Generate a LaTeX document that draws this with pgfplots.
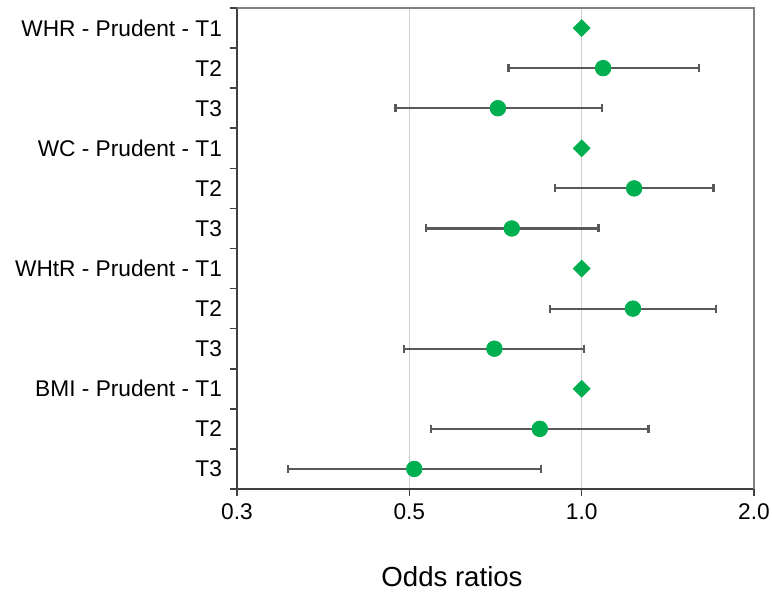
\documentclass[border=0pt]{standalone}
\usepackage{pgfplots}
\pgfplotsset{compat=1.18}
\usepackage{fontspec}
\setmainfont{Liberation Sans}
\definecolor{dotgreen}{HTML}{00B050}
\definecolor{cigray}{HTML}{595959}
\definecolor{gridgray}{HTML}{D0D0D0}
\definecolor{spine}{HTML}{404040}

% odds ratios, one row per line of the plot (1 = top)
\pgfplotstableread{
y or
2 1.09
3 0.714
5 1.235
6 0.755
8 1.229
9 0.704
11 0.845
12 0.510
}\ortable
\pgfplotstableread{
y or
1 1
4 1
7 1
10 1
}\reftable

\begin{document}
\begin{tikzpicture}
\path[use as bounding box] (0,0) rectangle (386pt,295.5pt);
\begin{axis}[
  at={(118.5pt,51pt)}, anchor=south west,
  scale only axis,
  width=258.5pt, height=240.5pt,
  xmode=log, log basis x=2,
  xmin=0.25, xmax=2,
  xtick={0.25,0.5,1,2},
  xticklabels={0.3,0.5,1.0,2.0},
  y dir=reverse,
  ymin=0.5, ymax=12.5,
  ytick={1,...,12},
  yticklabels={WHR - Prudent - T1,T2,T3,WC - Prudent - T1,T2,T3,WHtR - Prudent - T1,T2,T3,BMI - Prudent - T1,T2,T3},
  minor ytick={0.5,1.5,...,12.5},
  axis lines=left,
  axis line style={spine, line width=0.8pt, -},
  tick align=outside,
  major tick length=3.5pt,
  minor tick length=3.5pt,
  major y tick style={draw=none},
  minor y tick style={spine, line width=0.8pt},
  major x tick style={spine, line width=0.8pt},
  xmajorgrids,
  grid style={gridgray, line width=0.6pt},
  tick label style={font=\fontsize{11.35}{13}\selectfont},
  /pgf/number format/assume math mode=true,
  yticklabel style={xshift=-0.5pt},
  xticklabel style={yshift=-0.5pt},
  clip=false,
  unbounded coords=jump,
]
  % confidence intervals
  \addplot[cigray, line width=1.1pt, mark=|, mark size=2pt,
    mark options={solid, line width=1.1pt}] coordinates {
    (0.745,2) (1.605,2) (nan,2)
    (0.473,3) (1.086,3) (nan,3)
    (0.898,5) (1.70,5) (nan,5)
    (0.535,6) (1.07,6) (nan,6)
    (0.88,8) (1.718,8) (nan,8)
    (0.489,9) (1.01,9) (nan,9)
    (0.546,11) (1.308,11) (nan,11)
    (0.307,12) (0.849,12)
  };
  \addplot[only marks, mark=*, mark size=3.9pt, dotgreen,
    mark options={draw=dotgreen, fill=dotgreen}] table[x=or, y=y] {\ortable};
  \addplot[only marks, mark=square*, mark size=2.95pt, dotgreen,
    mark options={draw=dotgreen, fill=dotgreen, rotate=45}] table[x=or, y=y] {\reftable};
  \draw[gray, line width=0.8pt] (rel axis cs:0,1) -- (rel axis cs:1,1) -- (rel axis cs:1,0);
\end{axis}
\node[font=\fontsize{13.8}{16}\selectfont] at (226pt,7pt) {Odds ratios};
\end{tikzpicture}
\end{document}
